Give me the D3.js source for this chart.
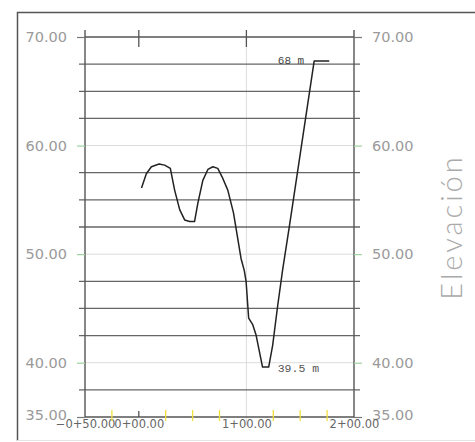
<!DOCTYPE html>
<html><head><meta charset="utf-8">
<script src="https://cdn.jsdelivr.net/npm/d3@7"></script>
<style>body{margin:0;background:#fff}svg{display:block}</style>
</head><body>
<script>
// Data
const stations   = [2.5, 7, 11.7, 18.8, 24, 29.3, 33.3, 38, 42.6, 47.2, 51.8, 54.9, 59.5, 64.2, 68.8, 73.4, 77.5, 82.7, 88, 95, 98, 99.7, 102.1, 105.9, 109, 115, 120.7, 124.4, 129, 133.6, 140, 163, 177];
const elevations = [56.1, 57.4, 58.05, 58.3, 58.2, 57.9, 55.9, 54.1, 53.15, 53.0, 53.0, 54.7, 56.8, 57.8, 58.05, 57.9, 57.1, 55.9, 53.8, 49.6, 48.5, 47.5, 44.1, 43.5, 42.55, 39.6, 39.6, 41.6, 45.2, 48.5, 52.6, 67.8, 67.8];
const yMajorTicks = [35, 40, 50, 60, 70];
const yTickLabels = ["35.00", "40.00", "50.00", "60.00", "70.00"];
const yMinorLines = [37.5, 42.5, 45, 47.5, 52.5, 55, 57.5, 62.5, 65, 67.5];
const xMajorTicks = [-50, 0, 100, 200];
const xTickLabels = ["\u22120+50.00", "0+00.00", "1+00.00", "2+00.00"];
const xMinorTicks = [-25, 25, 50, 75, 125, 150, 175];
const annStations = [163, 120.7];
const annElev = [67.8, 39.6];
const annText = ["68 m", "39.5 m"];
const axisTitle = "Elevación";

const W = 475, H = 442;
const svg = d3.select("body").append("svg").attr("width", W).attr("height", H);
const x = d3.scaleLinear().domain([-50, 200]).range([85, 354]);
const y = d3.scaleLinear().domain([35, 70]).range([417, 37]);

// frame
svg.append("path").attr("d", `M17.5,441 V12.5 H475`).attr("fill","none").attr("stroke","#555").attr("stroke-width",1.5);
svg.append("line").attr("x1",17).attr("x2",475).attr("y1",440.5).attr("y2",440.5).attr("stroke","#e4e4e4");

// light grid at major ticks (40,50,60)
svg.selectAll(".lg").data(yMajorTicks.filter(v => v>35 && v<70)).enter().append("line")
  .attr("x1", x(-50)).attr("x2", x(200)).attr("y1", d=>y(d)).attr("y2", d=>y(d))
  .attr("stroke","#dcdcdc").attr("stroke-width",1);
// vertical light line at 1+00
svg.append("line").attr("x1", x(100)).attr("x2", x(100)).attr("y1", y(70)).attr("y2", y(35)+8)
  .attr("stroke","#dcdcdc").attr("stroke-width",1);

// dark minor lines
svg.selectAll(".dl").data(yMinorLines).enter().append("line")
  .attr("x1", x(-50)-6).attr("x2", x(200)+6).attr("y1", d=>y(d)).attr("y2", d=>y(d))
  .attr("stroke","#666").attr("stroke-width",1.3);

// top and bottom lines
[70,35].forEach(v => svg.append("line").attr("x1", x(-50)).attr("x2", x(200)).attr("y1", y(v)).attr("y2", y(v))
  .attr("stroke","#555").attr("stroke-width",1.4));

// y axes via d3.axis
const yl = svg.append("g").attr("transform", `translate(${x(-50)},0)`)
  .call(d3.axisLeft(y).tickValues(yMajorTicks).tickSize(8).tickPadding(10).tickFormat((d,i)=>yTickLabels[i]));
const yr = svg.append("g").attr("transform", `translate(${x(200)},0)`)
  .call(d3.axisRight(y).tickValues(yMajorTicks).tickSize(8).tickPadding(10).tickFormat((d,i)=>yTickLabels[i]));
[yl, yr].forEach(g => {
  g.select(".domain").attr("d", `M0,${y(70)-7}V${y(35)}`).attr("stroke","#555").attr("stroke-width",1.4);
  g.selectAll(".tick line").attr("stroke", d => (d===35||d===70) ? "#777" : "#9fd39f").attr("stroke-width",1.2);
  g.selectAll(".tick text").attr("fill","#9a9a9a").attr("font-family","'DejaVu Sans', sans-serif").attr("font-size",14.5);
});
yl.selectAll(".tick").filter(d => d===35).select("text").attr("dy","0.2em");
yr.selectAll(".tick").filter(d => d===35).select("text").attr("dy","0.2em");

// bottom axis
const xb = svg.append("g").attr("transform", `translate(0,${y(35)})`)
  .call(d3.axisBottom(x).tickValues(xMajorTicks).tickSize(0).tickPadding(3).tickFormat((d,i)=>xTickLabels[i]));
xb.select(".domain").remove();
xb.selectAll(".tick text").attr("fill","#666").attr("font-family","'DejaVu Sans', sans-serif").attr("font-size",11.5);
// yellow minor ticks
svg.selectAll(".ym").data(xMinorTicks).enter().append("line")
  .attr("x1", d=>x(d)).attr("x2", d=>x(d)).attr("y1", y(35)-7).attr("y2", y(35)+4)
  .attr("stroke","#f0e040").attr("stroke-width",1.3);
// dark tick at 0 bottom
svg.append("line").attr("x1", x(0)).attr("x2", x(0)).attr("y1", y(35)-6).attr("y2", y(35)).attr("stroke","#555").attr("stroke-width",1.3);
// top ticks
svg.selectAll(".tt").data([0,100]).enter().append("line")
  .attr("x1", d=>x(d)).attr("x2", d=>x(d)).attr("y1", y(70)-7).attr("y2", y(70)+10)
  .attr("stroke","#555").attr("stroke-width",1.3);

// profile
const line = d3.line().x((d,i)=>x(stations[i])).y(d=>y(d));
svg.append("path").attr("d", line(elevations)).attr("fill","none").attr("stroke","#222").attr("stroke-width",1.5).attr("stroke-linejoin","round");

// annotations
svg.append("text").attr("x", x(annStations[0]) - 10).attr("y", y(annElev[0]) + 3.5).attr("text-anchor","end")
  .attr("font-family","'Liberation Mono', monospace").attr("font-size",11).attr("fill","#444").text(annText[0]);
svg.append("text").attr("x", x(annStations[1]) + 9).attr("y", y(annElev[1]) + 5).attr("text-anchor","start")
  .attr("font-family","'Liberation Mono', monospace").attr("font-size",11.5).attr("fill","#555").text(annText[1]);

// axis title
svg.append("text").attr("transform", `translate(462,227) rotate(-90)`).attr("text-anchor","middle")
  .attr("font-family","Lato, 'DejaVu Sans', sans-serif").attr("font-weight",300).attr("font-size",29)
  .attr("fill","#aaaaaa").attr("letter-spacing",3).text(axisTitle);
</script>
</body></html>
